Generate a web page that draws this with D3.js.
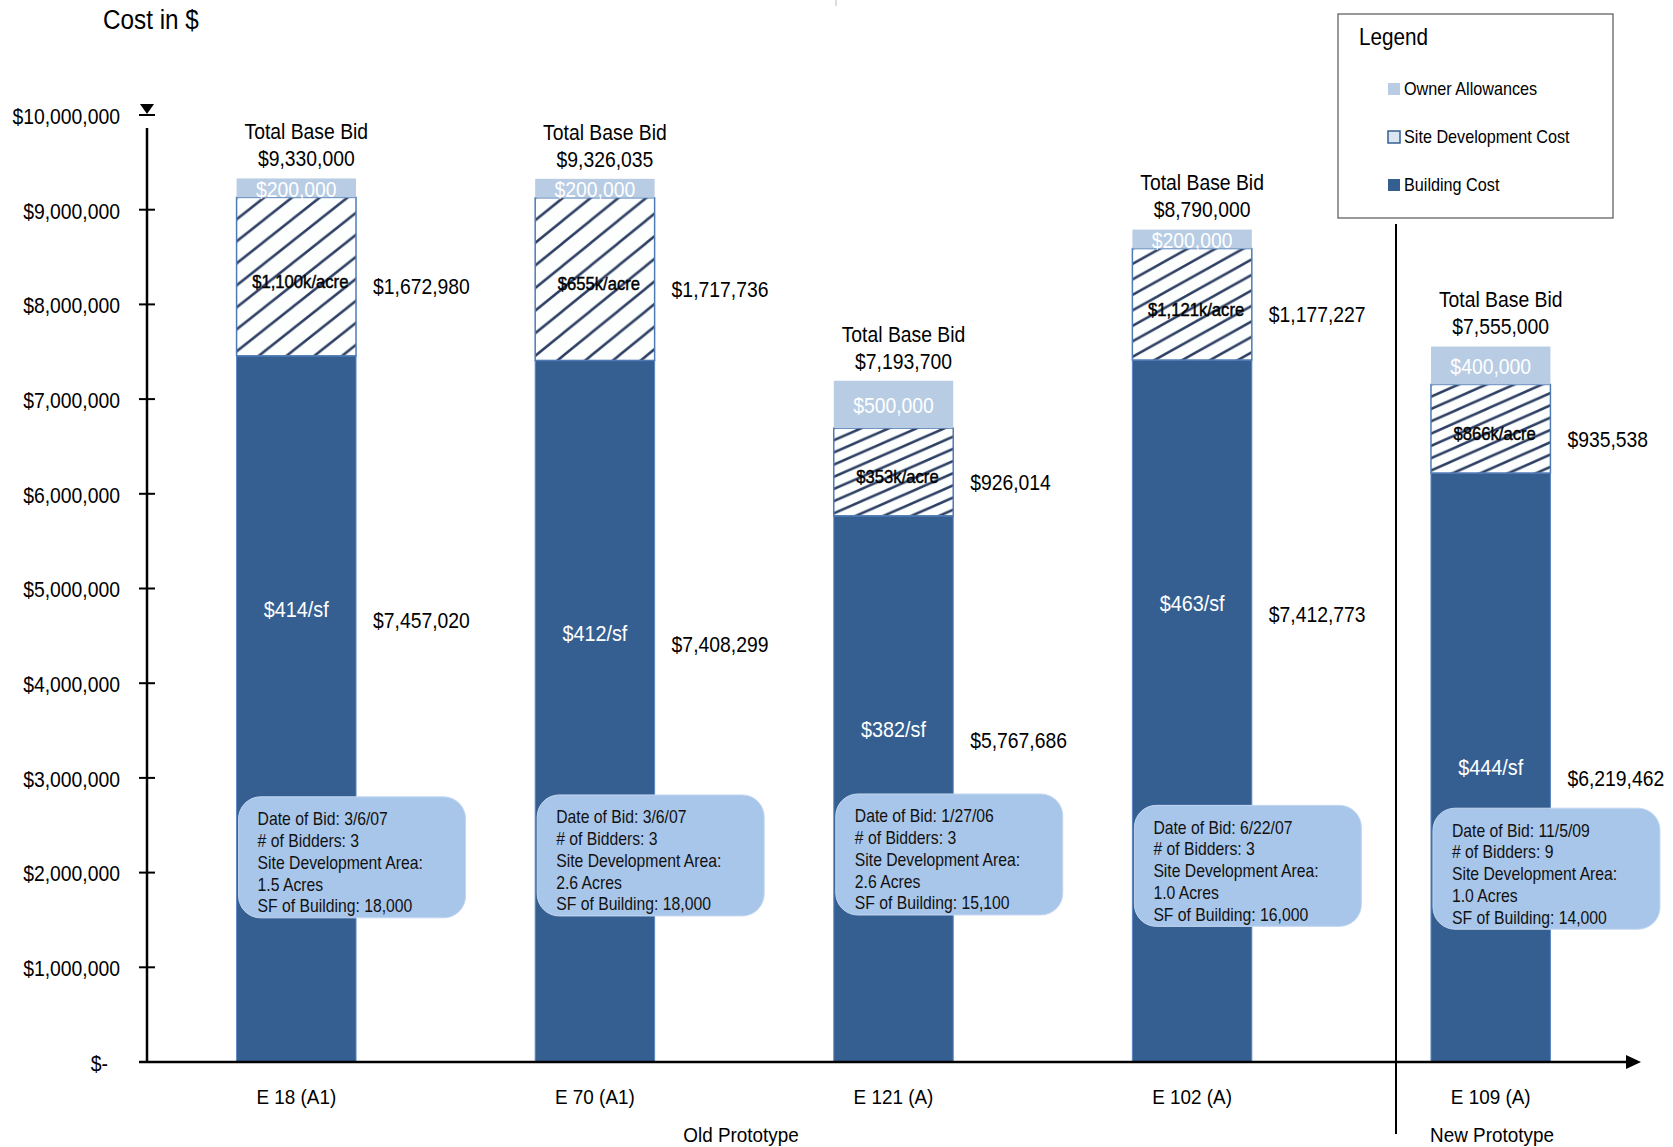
<!DOCTYPE html>
<html>
<head>
<meta charset="utf-8">
<script src="https://cdn.jsdelivr.net/npm/d3@7"></script>
<style>
  body { margin: 0; background: #fff; }
  svg { display: block; font-family: "Liberation Sans", Arial, sans-serif; }
</style>
</head>
<body>
<div id="chart"></div>
<script>
// Data
const schools = ["E 18 (A1)", "E 70 (A1)", "E 121 (A)", "E 102 (A)", "E 109 (A)"];
const buildingCost = [7457020, 7408299, 5767686, 7412773, 6219462];
const siteCost = [1672980, 1717736, 926014, 1177227, 935538];
const ownerAllowance = [200000, 200000, 500000, 200000, 400000];
const totalBid = ["$9,330,000", "$9,326,035", "$7,193,700", "$8,790,000", "$7,555,000"];
const costPerSf = ["$414/sf", "$412/sf", "$382/sf", "$463/sf", "$444/sf"];
const costPerAcre = ["$1,100k/acre", "$655k/acre", "$353k/acre", "$1,121k/acre", "$866k/acre"];
const bidDates = ["3/6/07", "3/6/07", "1/27/06", "6/22/07", "11/5/09"];
const bidders = [3, 3, 3, 3, 9];
const siteAcres = ["1.5", "2.6", "2.6", "1.0", "1.0"];
const buildingSf = ["18,000", "18,000", "15,100", "16,000", "14,000"];
const yTicks = [0, 1e6, 2e6, 3e6, 4e6, 5e6, 6e6, 7e6, 8e6, 9e6, 10e6];

// Where the hand-placed labels sit, in $ on the y scale
const rateLabelAt = [4.78e6, 4.53e6, 3.52e6, 4.85e6, 3.11e6];
const infoBoxTopAt = [2.80e6, 2.82e6, 2.83e6, 2.71e6, 2.68e6];

// Colours
const buildingColor = "#365f91";
const allowanceColor = "#b8cce4";
const boxColor = "#a8c6ea";
const hatchColor = "#2c3e63";

const svgWidth = 1673;
const svgHeight = 1147;

// the original uses a condensed face; squeeze Liberation Sans horizontally
const SX = 0.9;
const at = (x, y) => `translate(${x},${y}) scale(${SX},1)`;

const svg = d3.select("#chart")
  .append("svg")
  .attr("width", svgWidth)
  .attr("height", svgHeight);

// Scales
const xScale = d3.scaleBand()
  .domain(schools)
  .range([147, 1640])
  .paddingInner(0.6)
  .paddingOuter(0.3);

const yScale = d3.scaleLinear()
  .domain([0, 10e6])
  .range([1062, 115]);

const bw = xScale.bandwidth();

const rows = schools.map((s, i) => ({
  school: s,
  i: i,
  b0: 0,
  b1: buildingCost[i],
  s1: buildingCost[i] + siteCost[i],
  a1: buildingCost[i] + siteCost[i] + ownerAllowance[i]
}));

// Hatch patterns, one per bar so the stripes stretch with the segment like the original
const defs = svg.append("defs");
rows.forEach((d) => {
  const h = yScale(d.b1) - yScale(d.s1);
  const tw = bw / 4.3;
  const th = h / 7.2;
  const p = defs.append("pattern")
    .attr("id", "hatch" + d.i)
    .attr("patternUnits", "userSpaceOnUse")
    .attr("x", xScale(d.school))
    .attr("y", yScale(d.s1))
    .attr("width", tw)
    .attr("height", th);
  p.append("rect").attr("width", tw).attr("height", th).attr("fill", "#fdfefe");
  p.append("path")
    .attr("d", `M${-tw},${th} L${tw},${-th} M${-tw / 2},${th * 1.5} L${tw * 1.5},${-th / 2} M0,${2 * th} L${2 * tw},0`)
    .attr("stroke", hatchColor)
    .attr("stroke-width", 2.5);
});

// Bars
const bars = svg.append("g").attr("id", "bars");

bars.selectAll("rect.building")
  .data(rows)
  .join("rect")
  .attr("class", "building")
  .attr("x", (d) => xScale(d.school))
  .attr("y", (d) => yScale(d.b1))
  .attr("width", bw)
  .attr("height", (d) => yScale(d.b0) - yScale(d.b1))
  .attr("fill", buildingColor)
  .attr("stroke", "#5b86c2")
  .attr("stroke-width", 1);

bars.selectAll("rect.site")
  .data(rows)
  .join("rect")
  .attr("class", "site")
  .attr("x", (d) => xScale(d.school))
  .attr("y", (d) => yScale(d.s1))
  .attr("width", bw)
  .attr("height", (d) => yScale(d.b1) - yScale(d.s1))
  .attr("fill", (d) => `url(#hatch${d.i})`)
  .attr("stroke", "#4f7bb5")
  .attr("stroke-width", 1.5);

bars.selectAll("rect.allow")
  .data(rows)
  .join("rect")
  .attr("class", "allow")
  .attr("x", (d) => xScale(d.school))
  .attr("y", (d) => yScale(d.a1))
  .attr("width", bw)
  .attr("height", (d) => yScale(d.s1) - yScale(d.a1))
  .attr("fill", allowanceColor);

// Labels on and beside the bars
const labels = svg.append("g").attr("id", "labels").style("dominant-baseline", "central");
const cx = (d) => xScale(d.school) + bw / 2;
const rightX = (d) => xScale(d.school) + bw + 17;
const fmt = d3.format("$,");

labels.selectAll("text.allow")
  .data(rows)
  .join("text")
  .attr("transform", (d) => at(cx(d), yScale((d.s1 + d.a1) / 2) + 1))
  .attr("text-anchor", "middle")
  .attr("fill", "#fff")
  .style("font-size", "21.5px")
  .text((d) => fmt(ownerAllowance[d.i]));

labels.selectAll("text.acre")
  .data(rows)
  .join("text")
  .attr("transform", (d) => at(cx(d) + 4, yScale((d.b1 + d.s1) / 2) + 5))
  .attr("text-anchor", "middle")
  .attr("fill", "#000")
  .attr("stroke", "#000")
  .attr("stroke-width", 0.45)
  .style("font-size", "18.5px")
  .text((d) => costPerAcre[d.i]);

labels.selectAll("text.siteval")
  .data(rows)
  .join("text")
  .attr("transform", (d) => at(rightX(d), yScale((d.b1 + d.s1) / 2) + 10))
  .attr("fill", "#000")
  .style("font-size", "21.5px")
  .text((d) => fmt(siteCost[d.i]));

labels.selectAll("text.sf")
  .data(rows)
  .join("text")
  .attr("transform", (d) => at(cx(d), yScale(rateLabelAt[d.i])))
  .attr("text-anchor", "middle")
  .attr("fill", "#fff")
  .style("font-size", "22px")
  .text((d) => costPerSf[d.i]);

labels.selectAll("text.bval")
  .data(rows)
  .join("text")
  .attr("transform", (d) => at(rightX(d), yScale(rateLabelAt[d.i]) + 11))
  .attr("fill", "#000")
  .style("font-size", "21.5px")
  .text((d) => fmt(buildingCost[d.i]));

labels.selectAll("text.totalhead")
  .data(rows)
  .join("text")
  .attr("transform", (d) => at(cx(d) + 10, yScale(d.a1) - 47))
  .attr("text-anchor", "middle")
  .style("font-size", "21.5px")
  .text("Total Base Bid");

labels.selectAll("text.totalval")
  .data(rows)
  .join("text")
  .attr("transform", (d) => at(cx(d) + 10, yScale(d.a1) - 20))
  .attr("text-anchor", "middle")
  .style("font-size", "21.5px")
  .text((d) => totalBid[d.i]);

// Info boxes
const boxes = svg.append("g").attr("id", "info")
  .selectAll("g")
  .data(rows)
  .join("g")
  .attr("transform", (d) => `translate(${xScale(d.school) + 2},${yScale(infoBoxTopAt[d.i])})`);

boxes.append("rect")
  .attr("width", 227)
  .attr("height", 121)
  .attr("rx", 22)
  .attr("fill", boxColor)
  .attr("stroke", "#c4d7f0")
  .attr("stroke-width", 1);

boxes.append("text")
  .attr("transform", at(19, 0))
  .style("font-size", "17.5px")
  .style("dominant-baseline", "central")
  .attr("fill", "#111")
  .selectAll("tspan")
  .data((d) => [
    "Date of Bid: " + bidDates[d.i],
    "# of Bidders: " + bidders[d.i],
    "Site Development Area:",
    siteAcres[d.i] + " Acres",
    "SF of Building: " + buildingSf[d.i]
  ])
  .join("tspan")
  .attr("x", 0)
  .attr("y", (t, j) => 22 + j * 21.8)
  .text((t) => t);

// Axes
const axes = svg.append("g").attr("id", "axes");

// y axis: line, cross ticks, down-pointing marker at the top
axes.append("line")
  .attr("x1", 147).attr("x2", 147)
  .attr("y1", 128).attr("y2", yScale(0))
  .attr("stroke", "#000").attr("stroke-width", 2.5);

axes.append("path")
  .attr("d", "M140,104 L154,104 L147,114 Z")
  .attr("fill", "#000");

axes.selectAll("line.tick")
  .data(yTicks)
  .join("line")
  .attr("x1", 139).attr("x2", 155)
  .attr("y1", (d) => yScale(d)).attr("y2", (d) => yScale(d))
  .attr("stroke", "#000").attr("stroke-width", 2);

axes.selectAll("text.ytick")
  .data(yTicks)
  .join("text")
  .attr("transform", (d) => at(d === 0 ? 108 : 120, yScale(d) + 1))
  .attr("text-anchor", "end")
  .style("dominant-baseline", "central")
  .style("font-size", "21.5px")
  .text((d) => (d === 0 ? "$-" : fmt(d)));

// x axis with arrow
axes.append("line")
  .attr("x1", 139).attr("x2", 1628)
  .attr("y1", yScale(0)).attr("y2", yScale(0))
  .attr("stroke", "#000").attr("stroke-width", 2.5);

axes.append("path")
  .attr("d", `M1626,${yScale(0) - 7} L1641,${yScale(0)} L1626,${yScale(0) + 7} Z`)
  .attr("fill", "#000");

axes.selectAll("text.xtick")
  .data(schools)
  .join("text")
  .attr("transform", (d) => at(xScale(d) + bw / 2, 1097))
  .attr("text-anchor", "middle")
  .style("dominant-baseline", "central")
  .style("font-size", "21px")
  .text((d) => d);

// Old / new prototype divider
axes.append("line")
  .attr("x1", 1396).attr("x2", 1396)
  .attr("y1", 224).attr("y2", 1134)
  .attr("stroke", "#000").attr("stroke-width", 2);

axes.append("text")
  .attr("transform", at(741, 1135))
  .attr("text-anchor", "middle")
  .style("dominant-baseline", "central")
  .style("font-size", "21px")
  .text("Old Prototype");

axes.append("text")
  .attr("transform", at(1492, 1135))
  .attr("text-anchor", "middle")
  .style("dominant-baseline", "central")
  .style("font-size", "21px")
  .text("New Prototype");

// small stray mark at the top edge
axes.append("line")
  .attr("x1", 836).attr("x2", 836)
  .attr("y1", 0).attr("y2", 6)
  .attr("stroke", "#bbb").attr("stroke-width", 1);

// Axis title
svg.append("text")
  .attr("transform", at(103, 20))
  .style("dominant-baseline", "central")
  .style("font-size", "27px")
  .text("Cost in $");

// Legend
const legend = svg.append("g").attr("id", "legend");
legend.append("rect")
  .attr("x", 1338).attr("y", 14)
  .attr("width", 275).attr("height", 204)
  .attr("fill", "#fff")
  .attr("stroke", "#555").attr("stroke-width", 1.2);

legend.append("text")
  .attr("transform", at(1359, 37))
  .style("dominant-baseline", "central")
  .style("font-size", "23px")
  .text("Legend");

const legendItems = [
  { name: "Owner Allowances", fill: allowanceColor, stroke: "none" },
  { name: "Site Development Cost", fill: "#dce6f2", stroke: "#365f91" },
  { name: "Building Cost", fill: buildingColor, stroke: "none" }
];

const li = legend.selectAll("g.item")
  .data(legendItems)
  .join("g")
  .attr("transform", (d, i) => `translate(1388,${89 + i * 48})`);

li.append("rect")
  .attr("x", 0).attr("y", -6)
  .attr("width", 12).attr("height", 12)
  .attr("fill", (d) => d.fill)
  .attr("stroke", (d) => d.stroke)
  .attr("stroke-width", 1.5);

li.append("text")
  .attr("transform", at(16, 0))
  .style("dominant-baseline", "central")
  .style("font-size", "18px")
  .text((d) => d.name);
</script>
</body>
</html>
